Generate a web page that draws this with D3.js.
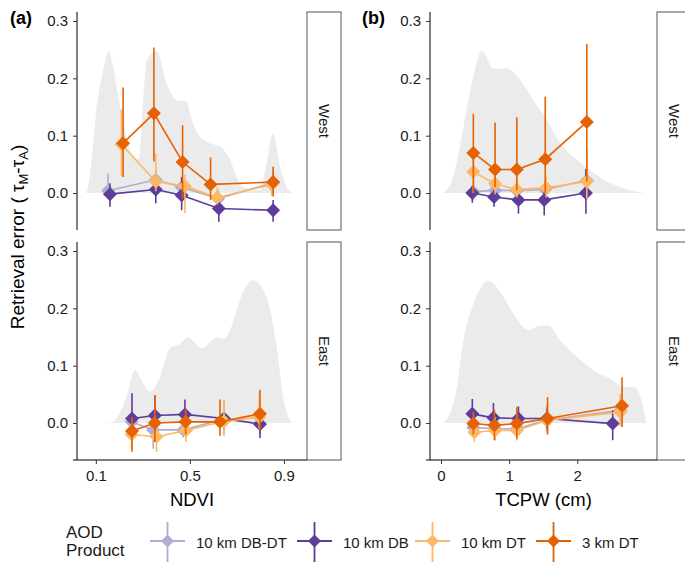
<!DOCTYPE html>
<html><head><meta charset="utf-8">
<script src="https://cdn.jsdelivr.net/npm/d3@7"></script>
<style>body{margin:0;background:#fff} svg{display:block;font-family:"Liberation Sans",Arial,sans-serif}</style>
</head><body><svg id="c" width="685" height="562"></svg>
<script>
// ---------------- DATA ----------------
const products = ["10 km DB-DT","10 km DB","10 km DT","3 km DT"];
const regions = ["West","East"];
const ndviTicks = [0.1,0.5,0.9];
const tcpwTicks = [0,1,2];
const yTicks = [0,0.1,0.2,0.3];

// Panel (a) NDVI, West  (rows: DB-DT, DB, DT, 3km DT)
const aWestX  = [[0.152,0.355,0.465,0.620,0.854],[0.160,0.355,0.465,0.623,0.854],[0.209,0.355,0.479,0.616,0.848],[0.216,0.347,0.469,0.588,0.854]];
const aWestY  = [[0.004,0.023,0.010,-0.010,0.018],[-0.002,0.006,-0.004,-0.027,-0.030],[0.085,0.020,0.012,-0.008,0.015],[0.087,0.139,0.054,0.015,0.019]];
const aWestLo = [[-0.010,0.005,-0.010,-0.025,0.000],[-0.024,-0.018,-0.030,-0.050,-0.050],[0.030,0.003,-0.035,-0.020,-0.005],[0.028,0.055,-0.010,-0.012,-0.006]];
const aWestHi = [[0.034,0.045,0.028,0.005,0.040],[0.017,0.020,0.028,-0.012,-0.012],[0.146,0.069,0.032,0.010,0.030],[0.184,0.254,0.118,0.062,0.046]];
// Panel (a) NDVI, East
const aEastX  = [[0.252,0.344,0.472,0.645,0.798],[0.254,0.351,0.479,0.645,0.798],[0.252,0.358,0.483,0.645,0.795],[0.254,0.351,0.482,0.628,0.798]];
const aEastY  = [[0.002,-0.012,-0.012,0.007,-0.001],[0.008,0.013,0.015,0.008,-0.002],[-0.020,-0.024,-0.013,0.003,0.010],[-0.014,0.000,0.002,0.002,0.016]];
const aEastLo = [[-0.015,-0.045,-0.025,-0.020,-0.020],[-0.013,-0.022,-0.007,-0.010,-0.026],[-0.045,-0.050,-0.033,-0.022,-0.010],[-0.050,-0.033,-0.020,-0.022,-0.013]];
const aEastHi = [[0.020,0.020,0.010,0.040,0.015],[0.052,0.048,0.041,0.020,0.013],[0.000,0.000,0.010,0.040,0.052],[0.010,0.049,0.025,0.041,0.058]];
// Panel (b) TCPW, West
const bWestX  = [[0.475,0.794,1.113,1.530,2.140],[0.460,0.779,1.137,1.515,2.127],[0.475,0.794,1.113,1.544,2.140],[0.475,0.794,1.113,1.530,2.140]];
const bWestY  = [[0.002,0.005,0.004,0.006,0.022],[0.000,-0.007,-0.012,-0.012,0.000],[0.037,0.016,0.006,0.009,0.020],[0.070,0.041,0.041,0.059,0.124]];
const bWestLo = [[-0.012,-0.010,-0.015,-0.015,-0.005],[-0.017,-0.024,-0.036,-0.039,-0.036],[0.000,-0.002,-0.008,-0.008,-0.010],[0.000,0.010,0.005,0.000,0.020]];
const bWestHi = [[0.015,0.020,0.020,0.020,0.043],[0.013,0.010,0.008,0.008,0.042],[0.060,0.035,0.022,0.028,0.077],[0.138,0.123,0.132,0.168,0.260]];
// Panel (b) TCPW, East
const bEastX  = [[0.475,0.794,1.113,1.550,2.632],[0.460,0.770,1.137,1.554,2.520],[0.490,0.794,1.113,1.564,2.632],[0.475,0.784,1.113,1.564,2.657]];
const bEastY  = [[-0.008,-0.010,-0.010,0.005,0.022],[0.016,0.009,0.008,0.008,-0.001],[-0.016,-0.013,-0.013,0.005,0.019],[-0.001,-0.004,-0.001,0.008,0.030]];
const bEastLo = [[-0.025,-0.030,-0.030,-0.015,-0.005],[-0.007,-0.012,-0.010,-0.010,-0.030],[-0.033,-0.030,-0.030,-0.015,-0.005],[-0.020,-0.030,-0.027,-0.020,-0.007]];
const bEastHi = [[0.010,0.012,0.012,0.030,0.050],[0.042,0.035,0.029,0.025,0.022],[0.005,0.010,0.015,0.035,0.048],[0.020,0.023,0.028,0.045,0.080]];

// Background density curves (x value, scaled density)
const aWestDens = [[0.057,0],[0.062,0.002],[0.076,0.035],[0.104,0.15],[0.133,0.218],[0.154,0.247],[0.176,0.215],[0.195,0.17],[0.218,0.122],[0.246,0.075],[0.27,0.058],[0.283,0.062],[0.303,0.17],[0.317,0.232],[0.36,0.247],[0.402,0.19],[0.445,0.162],[0.487,0.16],[0.5,0.139],[0.543,0.098],[0.585,0.087],[0.628,0.081],[0.67,0.058],[0.699,0.028],[0.726,0.011],[0.798,0.005],[0.826,0.052],[0.854,0.104],[0.883,0.046],[0.911,0.011],[0.938,0]];
const aEastDens = [[0.057,0],[0.17,0.001],[0.19,0.01],[0.23,0.045],[0.266,0.093],[0.287,0.08],[0.33,0.055],[0.372,0.08],[0.415,0.13],[0.457,0.138],[0.493,0.149],[0.55,0.13],[0.614,0.149],[0.645,0.147],[0.683,0.175],[0.713,0.215],[0.769,0.249],[0.826,0.22],[0.869,0.133],[0.897,0.045],[0.925,0.005],[0.935,0]];
const bWestDens = [[0.034,0],[0.18,0.028],[0.33,0.115],[0.475,0.203],[0.598,0.248],[0.77,0.217],[0.966,0.217],[1.16,0.197],[1.357,0.162],[1.554,0.127],[1.75,0.087],[1.995,0.058],[2.24,0.035],[2.44,0.02],[2.68,0.008],[3.0,0]];
const bEastDens = [[0.034,0],[0.206,0.045],[0.33,0.144],[0.475,0.208],[0.525,0.223],[0.696,0.248],[0.868,0.229],[1.064,0.19],[1.284,0.162],[1.456,0.17],[1.578,0.17],[1.75,0.144],[1.995,0.115],[2.24,0.092],[2.485,0.077],[2.68,0.063],[2.83,0.063],[2.95,0.037],[3.01,0]];

// ---------------- STYLE / LAYOUT ----------------
const colors = ["#b2abd2","#5e3c99","#fdb863","#e66101"];
const svg = d3.select("#c");
const rowTop = [12, 242], rowH = 218;
const panels = [
  {label:"(a)", lx:10, x0:77, x1:307, dom:[0.02,0.998], ticks:ndviTicks, fmt:d3.format(".1f"), title:"NDVI",
   data:[[aWestX,aWestY,aWestLo,aWestHi,aWestDens],[aEastX,aEastY,aEastLo,aEastHi,aEastDens]]},
  {label:"(b)", lx:362, x0:430, x1:657, dom:[-0.161,3.17], ticks:tcpwTicks, fmt:d3.format("d"), title:"TCPW (cm)",
   data:[[bWestX,bWestY,bWestLo,bWestHi,bWestDens],[bEastX,bEastY,bEastLo,bEastHi,bEastDens]]}
];
const diamond = d3.symbol().type(d3.symbolSquare).size(98);

panels.forEach(p => {
  const x = d3.scaleLinear().domain(p.dom).range([p.x0, p.x1]);
  regions.forEach((reg, ri) => {
    const top = rowTop[ri];
    const y = d3.scaleLinear().domain([-0.0645, 0.3157]).range([top + rowH, top]);
    const [X, Y, LO, HI, D] = p.data[ri];
    const g = svg.append("g");
    g.append("path").datum(D)
      .attr("d", d3.area().x(d=>x(d[0])).y0(y(0)).y1(d=>y(d[1])).curve(d3.curveMonotoneX))
      .attr("fill", "#ebebeb");
    products.forEach((prod, k) => {
      const pts = X[k].map((xv,i)=>({x:xv, y:Y[k][i], lo:LO[k][i], hi:HI[k][i]}));
      g.append("path").datum(pts)
        .attr("d", d3.line().x(d=>x(d.x)).y(d=>y(d.y)))
        .attr("fill","none").attr("stroke",colors[k]).attr("stroke-width",1.6);
      g.selectAll(null).data(pts).enter().append("line")
        .attr("x1",d=>x(d.x)).attr("x2",d=>x(d.x))
        .attr("y1",d=>y(d.lo)).attr("y2",d=>y(d.hi))
        .attr("stroke",colors[k]).attr("stroke-width",1.6);
      g.selectAll(null).data(pts).enter().append("path")
        .attr("d", diamond)
        .attr("transform", d=>`translate(${x(d.x)},${y(d.y)}) rotate(45)`)
        .attr("fill", colors[k]);
    });
    const ya = svg.append("g").attr("transform",`translate(${p.x0},0)`)
      .call(d3.axisLeft(y).tickValues(yTicks).tickFormat(d3.format(".1f")).tickSize(4).tickPadding(5));
    ya.select(".domain").attr("d", `M0,${top}V${top+rowH}`).attr("stroke","#000");
    ya.selectAll(".tick line").attr("stroke","#333");
    ya.selectAll("text").attr("font-size",15).attr("fill","#1a1a1a").attr("font-family","Liberation Sans, Arial, sans-serif");
    svg.append("rect").attr("x",p.x1).attr("y",top).attr("width",34).attr("height",rowH)
      .attr("fill","#fff").attr("stroke","#555").attr("stroke-width",1);
    svg.append("text").attr("transform",`translate(${p.x1+17},${top+rowH/2}) rotate(90)`)
      .attr("text-anchor","middle").attr("dy","0.35em").attr("font-size",15).attr("fill","#1a1a1a").text(reg);
  });
  const xa = svg.append("g").attr("transform",`translate(0,${rowTop[1]+rowH})`)
    .call(d3.axisBottom(x).tickValues(p.ticks).tickFormat(p.fmt).tickSize(4).tickPadding(6));
  xa.select(".domain").attr("d", `M${p.x0-4},0H${p.x1}`).attr("stroke","#000");
  xa.selectAll(".tick line").attr("stroke","#333");
  xa.selectAll("text").attr("font-size",15).attr("fill","#1a1a1a").attr("font-family","Liberation Sans, Arial, sans-serif");
  svg.append("text").attr("x",(p.x0+p.x1)/2).attr("y",506).attr("text-anchor","middle")
    .attr("font-size",18.5).attr("fill","#000").text(p.title);
  svg.append("text").attr("x",p.lx).attr("y",24).attr("font-size",18).attr("font-weight","bold").text(p.label);
});

// y title
const yt = svg.append("text").attr("transform","translate(24,237) rotate(-90)")
  .attr("text-anchor","middle").attr("font-size",19).attr("fill","#000");
yt.append("tspan").text("Retrieval error (  \u03C4");
yt.append("tspan").attr("font-size",13).attr("dy",4).text("M");
yt.append("tspan").attr("dy",-4).text("-\u03C4");
yt.append("tspan").attr("font-size",13).attr("dy",4).text("A");
yt.append("tspan").attr("dy",-4).text(")");

// legend
svg.append("text").attr("x",66).attr("y",538).attr("font-size",17).attr("fill","#1a1a1a").text("AOD");
svg.append("text").attr("x",66).attr("y",556).attr("font-size",17).attr("fill","#1a1a1a").text("Product");
const keyX = [150, 297, 415, 536];
const keyW = 35;
const smallDiamond = d3.symbol().type(d3.symbolSquare).size(85);
products.forEach((prod,k) => {
  const kx = keyX[k], cy = 541;
  svg.append("line").attr("x1",kx).attr("x2",kx+keyW).attr("y1",cy).attr("y2",cy).attr("stroke",colors[k]).attr("stroke-width",1.8);
  svg.append("line").attr("x1",kx+keyW/2).attr("x2",kx+keyW/2).attr("y1",522).attr("y2",562).attr("stroke",colors[k]).attr("stroke-width",1.8);
  svg.append("path").attr("d",smallDiamond).attr("transform",`translate(${kx+keyW/2},${cy}) rotate(45)`).attr("fill",colors[k]);
  svg.append("text").attr("x",kx+keyW+11).attr("y",548).attr("font-size",15).attr("fill","#1a1a1a").text(prod);
});
</script></body></html>
